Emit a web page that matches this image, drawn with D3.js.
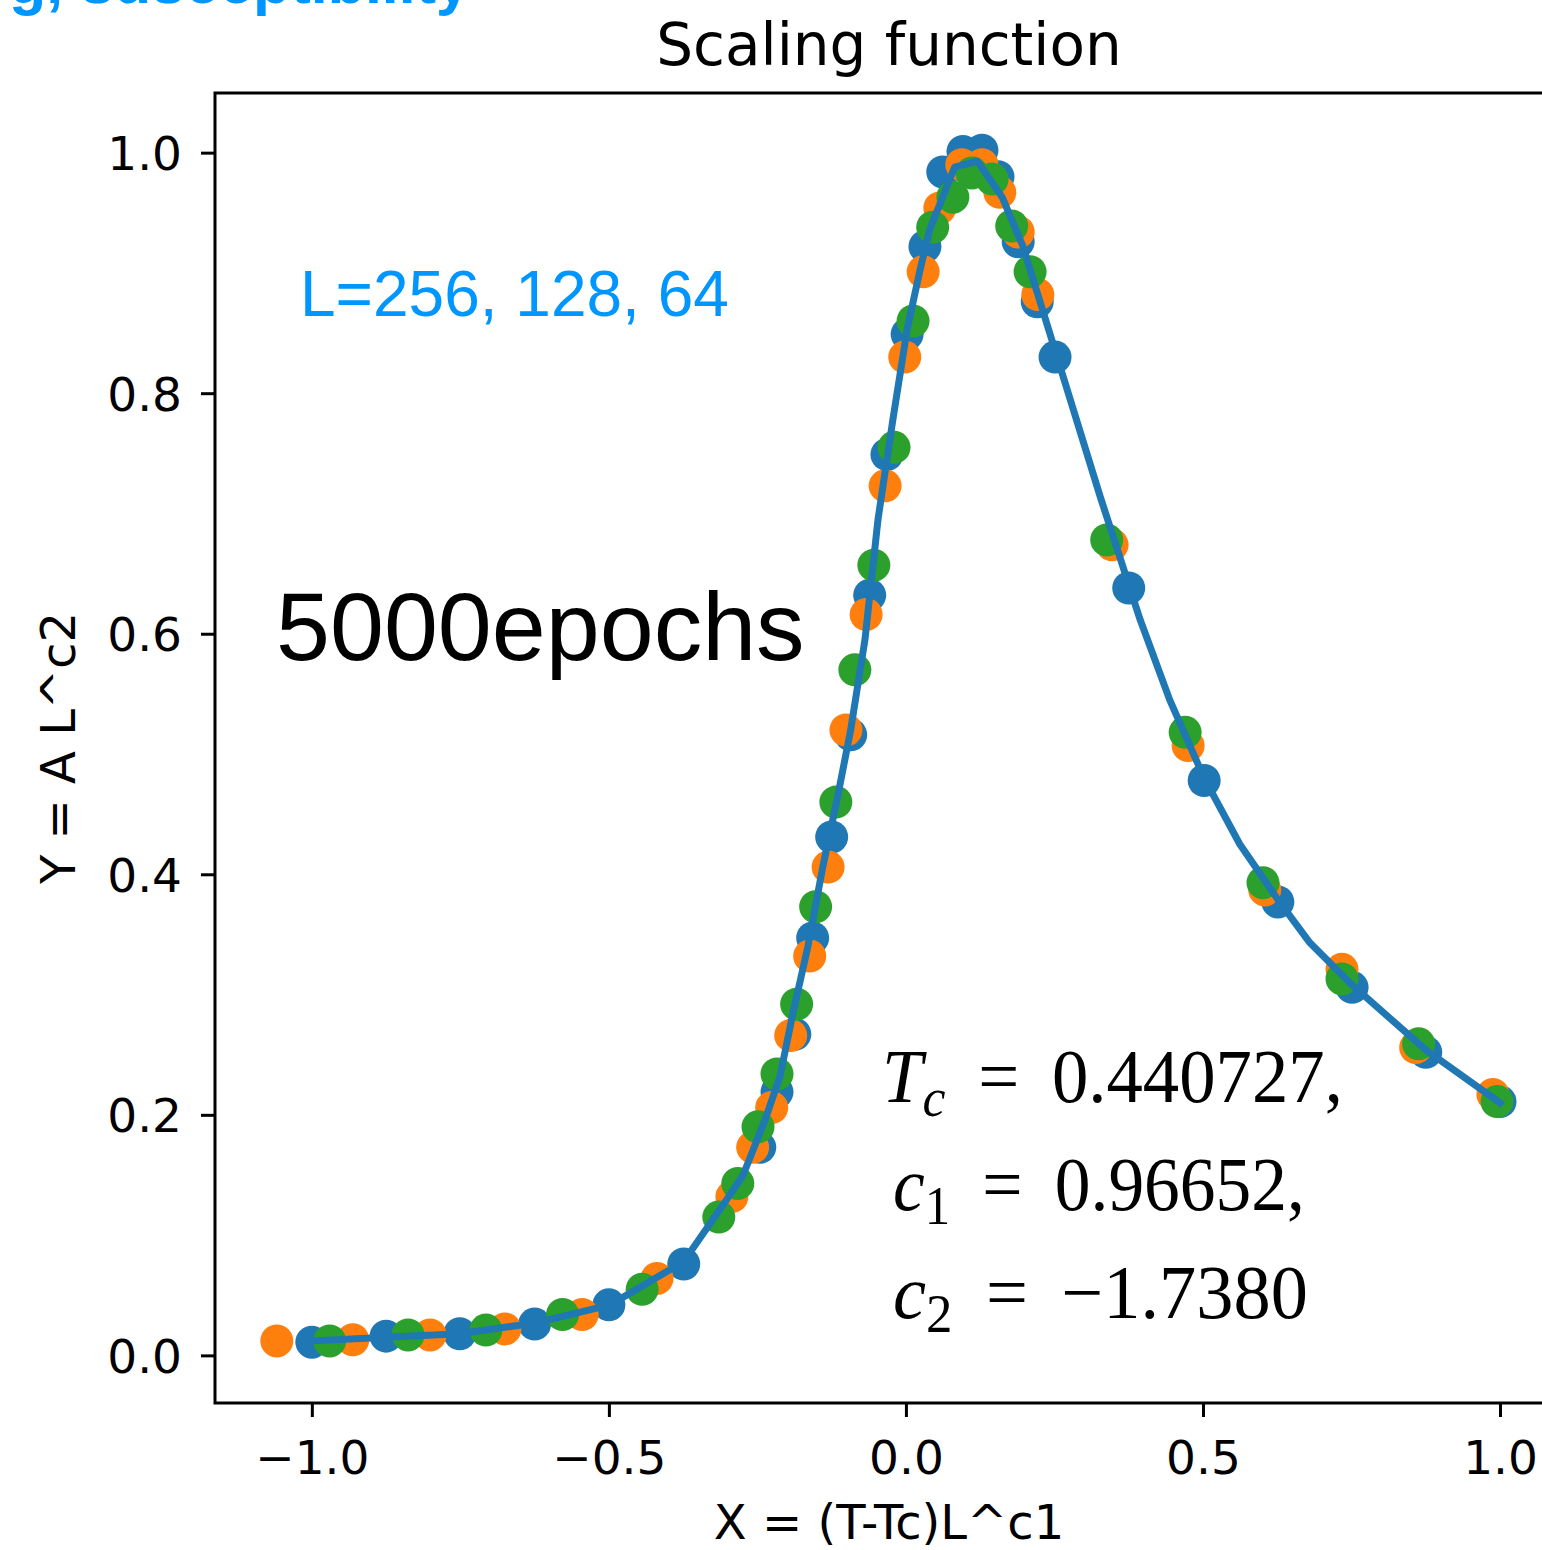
<!DOCTYPE html>
<html>
<head>
<meta charset="utf-8">
<script src="https://cdn.jsdelivr.net/npm/d3@7"></script>
<style>
  html, body { margin: 0; padding: 0; background: #fff; }
  svg { display: block; }
</style>
</head>
<body>
<svg id="chart" width="1542" height="1550"></svg>
<script>
// ---- data ----
const blueX = [-1.0, -0.875, -0.751, -0.625, -0.5, -0.374, -0.246, -0.217, -0.187, -0.157, -0.125, -0.093, -0.061, -0.032, 0.002, 0.032, 0.062, 0.096, 0.128, 0.155, 0.189, 0.221, 0.251, 0.375, 0.502, 0.626, 0.751, 0.875, 1.0];
const blueY = [0.011, 0.016, 0.018, 0.026, 0.042, 0.076, 0.173, 0.219, 0.267, 0.347, 0.431, 0.516, 0.632, 0.749, 0.849, 0.922, 0.984, 1.001, 1.002, 0.980, 0.926, 0.876, 0.830, 0.638, 0.478, 0.377, 0.306, 0.252, 0.211];

const orangeX = [-1.059, -0.931, -0.801, -0.675, -0.545, -0.419, -0.293, -0.258, -0.226, -0.194, -0.162, -0.131, -0.101, -0.067, -0.035, -0.002, 0.029, 0.057, 0.094, 0.128, 0.158, 0.189, 0.222, 0.347, 0.475, 0.604, 0.734, 0.858, 0.988];
const orangeY = [0.012, 0.013, 0.017, 0.022, 0.034, 0.064, 0.132, 0.173, 0.206, 0.266, 0.332, 0.406, 0.520, 0.616, 0.723, 0.830, 0.901, 0.954, 0.990, 0.990, 0.967, 0.934, 0.882, 0.674, 0.507, 0.387, 0.321, 0.256, 0.217];

const greenX = [-0.970, -0.838, -0.707, -0.578, -0.444, -0.315, -0.283, -0.249, -0.217, -0.184, -0.152, -0.118, -0.086, -0.054, -0.020, 0.012, 0.045, 0.079, 0.111, 0.145, 0.178, 0.209, 0.338, 0.470, 0.601, 0.734, 0.863, 0.995];
const greenY = [0.012, 0.017, 0.021, 0.034, 0.055, 0.115, 0.143, 0.190, 0.234, 0.292, 0.373, 0.460, 0.570, 0.657, 0.755, 0.860, 0.938, 0.963, 0.983, 0.978, 0.939, 0.901, 0.678, 0.518, 0.393, 0.313, 0.259, 0.211];

const fitX = [-1.0, -0.875, -0.751, -0.623, -0.498, -0.374, -0.301, -0.274, -0.237, -0.212, -0.190, -0.165, -0.140, -0.116, -0.093, -0.069, -0.047, -0.022, 0.002, 0.024, 0.040, 0.082, 0.120, 0.162, 0.197, 0.242, 0.327, 0.394, 0.444, 0.502, 0.562, 0.626, 0.680, 0.751, 0.875, 1.0];
const fitY = [0.012, 0.015, 0.018, 0.027, 0.042, 0.078, 0.130, 0.150, 0.196, 0.232, 0.285, 0.340, 0.406, 0.462, 0.520, 0.595, 0.695, 0.778, 0.853, 0.903, 0.936, 0.988, 0.993, 0.963, 0.922, 0.850, 0.714, 0.612, 0.545, 0.480, 0.425, 0.379, 0.343, 0.308, 0.254, 0.210];

const xTicks = [-1.0, -0.5, 0.0, 0.5, 1.0];
const yTicks = [0.0, 0.2, 0.4, 0.6, 0.8, 1.0];

const titleText = "Scaling function";
const xLabelText = "X = (T-Tc)L^c1";
const yLabelText = "Y = A L^c2";
const sizeText = "L=256, 128, 64";
const epochText = "5000epochs";
const topText = "g, susceptibility";

// ---- layout ----
const svg = d3.select("#chart");
const pLeft = 215, pRight = 1563, pTop = 93, pBottom = 1403;
const x = d3.scaleLinear().domain([-1.163, 1.106]).range([pLeft, pRight]);
const y = d3.scaleLinear().domain([-0.0396, 1.0496]).range([pBottom, pTop]);

const tickFont = "'DejaVu Sans', sans-serif";
const minus = s => s.replace("-", "\u2212");

// top clipped blue text (cut by the top edge, as in the reference)
svg.append("text")
  .attr("x", 470).attr("y", 3)
  .attr("text-anchor", "end")
  .attr("font-family", "'Liberation Sans', Arial, sans-serif")
  .attr("font-weight", "bold")
  .attr("font-size", 61)
  .attr("fill", "#0096ff")
  .text(topText);

// title
svg.append("text")
  .attr("x", (pLeft + pRight) / 2).attr("y", 65)
  .attr("text-anchor", "middle")
  .attr("font-family", tickFont)
  .attr("font-size", 58)
  .attr("fill", "#000")
  .text(titleText);

// scatter series
const series = [
  {xs: blueX, ys: blueY, color: "#1f77b4"},
  {xs: orangeX, ys: orangeY, color: "#ff7f0e"},
  {xs: greenX, ys: greenY, color: "#2ca02c"}
];
const plot = svg.append("g");
series.forEach(s => {
  plot.append("g").selectAll("circle")
    .data(s.xs.map((v, i) => [v, s.ys[i]]))
    .join("circle")
    .attr("cx", d => x(d[0]))
    .attr("cy", d => y(d[1]))
    .attr("r", 16.5)
    .attr("fill", s.color);
});

// fit line
const line = d3.line().x(d => x(d[0])).y(d => y(d[1]));
plot.append("path")
  .datum(fitX.map((v, i) => [v, fitY[i]]))
  .attr("d", line)
  .attr("fill", "none")
  .attr("stroke", "#1f77b4")
  .attr("stroke-width", 7)
  .attr("stroke-linejoin", "round")
  .attr("stroke-linecap", "square");

// axes
const xAxis = d3.axisBottom(x).tickValues(xTicks).tickFormat(d => minus(d3.format(".1f")(d)))
  .tickSizeOuter(0).tickSizeInner(14).tickPadding(14);
const yAxis = d3.axisLeft(y).tickValues(yTicks).tickFormat(d => minus(d3.format(".1f")(d)))
  .tickSizeOuter(0).tickSizeInner(14).tickPadding(19);

const gx = svg.append("g").attr("transform", `translate(0,${pBottom})`).call(xAxis);
const gy = svg.append("g").attr("transform", `translate(${pLeft},0)`).call(yAxis);
[gx, gy].forEach(g => {
  g.select(".domain").remove();
  g.selectAll(".tick line").attr("stroke", "#000").attr("stroke-width", 3);
  g.selectAll(".tick text").attr("font-family", tickFont).attr("font-size", 47).attr("fill", "#000");
});
gx.selectAll(".tick text").attr("dy", null).attr("y", 71);
gy.selectAll(".tick text").attr("dy", "0.36em");

// frame
svg.append("rect")
  .attr("x", pLeft).attr("y", pTop)
  .attr("width", pRight - pLeft).attr("height", pBottom - pTop)
  .attr("fill", "none").attr("stroke", "#000").attr("stroke-width", 3);

// axis labels
svg.append("text")
  .attr("x", (pLeft + pRight) / 2).attr("y", 1539)
  .attr("text-anchor", "middle")
  .attr("font-family", tickFont).attr("font-size", 48).attr("fill", "#000")
  .text(xLabelText);
svg.append("text")
  .attr("transform", `translate(75,${(pTop + pBottom) / 2}) rotate(-90)`)
  .attr("text-anchor", "middle")
  .attr("font-family", tickFont).attr("font-size", 48).attr("fill", "#000")
  .text(yLabelText);

// annotations
svg.append("text")
  .attr("x", 300).attr("y", 316)
  .attr("font-family", "'Liberation Sans', Arial, sans-serif")
  .attr("font-size", 64).attr("fill", "#0096ff")
  .text(sizeText);
svg.append("text")
  .attr("x", 276).attr("y", 660)
  .attr("font-family", "'Liberation Sans', Arial, sans-serif")
  .attr("font-size", 97).attr("fill", "#000")
  .text(epochText);

// math block
const mathLines = [
  {main: "T", sub: "c", subItalic: true, rest: "\u2009 = \u20090.440727,", x0: 882, x1: 1343, yb: 1102},
  {main: "c", sub: "1", subItalic: false, rest: "\u2009 = \u20090.96652,", x0: 893, x1: 1305, yb: 1210},
  {main: "c", sub: "2", subItalic: false, rest: "\u2009 = \u2009\u22121.7380", x0: 893, x1: 1308, yb: 1318}
];
const mathFont = "'Liberation Serif', 'DejaVu Serif', serif";
mathLines.forEach(m => {
  const t = svg.append("text")
    .attr("x", m.x0).attr("y", m.yb)
    .attr("font-family", mathFont).attr("font-size", 76).attr("fill", "#000");
  t.append("tspan").attr("font-style", "italic").text(m.main);
  t.append("tspan").attr("font-size", 54).attr("dy", 14)
    .attr("font-style", m.subItalic ? "italic" : "normal").text(m.sub);
  t.append("tspan").attr("dy", -14).text(m.rest);
  const w = t.node().getComputedTextLength();
  const k = (m.x1 - m.x0) / w;
  t.attr("transform", `translate(${m.x0},0) scale(${k},1) translate(${-m.x0},0)`);
});
</script>
</body>
</html>
